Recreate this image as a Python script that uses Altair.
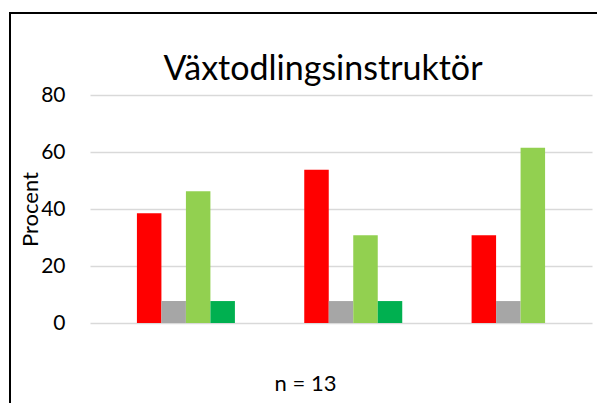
import altair as alt
import pandas as pd

groups = ["Grupp 1", "Grupp 2", "Grupp 3"]
series = ["Serie 0", "Serie 1", "Serie 2", "Serie 3", "Serie 4"]
colors = ["#FFFFFF", "#FF0000", "#A6A6A6", "#92D050", "#00B050"]
values = [
    [0.0, 38.5, 7.7, 46.2, 7.7],
    [0.0, 53.8, 7.7, 30.8, 7.7],
    [0.0, 30.8, 7.7, 61.5, 0.0],
]
y_ticks = [0, 20, 40, 60, 80]
chart_title = "Växtodlingsinstruktör"
n_text = "n = 13"

rows = []
for g, vals in zip(groups, values):
    for s, v in zip(series, vals):
        rows.append({"grupp": g, "serie": s, "procent": v})
df = pd.DataFrame(rows)

FONT = "Lato"

bars = alt.Chart(df).mark_bar().encode(
    x=alt.X("grupp:N", sort=groups,
            scale=alt.Scale(paddingInner=0.268, paddingOuter=0.134),
            axis=alt.Axis(labels=False, ticks=False, domain=False, title=n_text,
                          titleFont=FONT, titleFontSize=22, titleFontWeight="normal",
                          titleColor="#000000", titleX=215, titleY=67,
                          titleAlign="center", titleBaseline="alphabetic")),
    xOffset=alt.XOffset("serie:N", sort=series, scale=alt.Scale(paddingInner=0, paddingOuter=0)),
    y=alt.Y("procent:Q", scale=alt.Scale(domain=[0, 80], nice=False),
            axis=alt.Axis(values=y_ticks, domain=False, ticks=False, labelPadding=25,
                          labelFont=FONT, labelFontSize=21, labelColor="#000000",
                          gridColor="#D9D9D9", gridWidth=1.5,
                          title="Procent", titleFont=FONT, titleFontSize=22,
                          titleFontWeight="normal", titleColor="#000000",
                          titleX=-53, titleY=114, titleAlign="center", titleBaseline="alphabetic")),
    color=alt.Color("serie:N", sort=series, scale=alt.Scale(domain=series, range=colors), legend=None),
)

one = pd.DataFrame({"t": [chart_title]})

title = alt.Chart(one).mark_text(
    font=FONT, fontSize=34, color="#000000", align="center", baseline="alphabetic"
).encode(text="t:N", x=alt.value(233), y=alt.value(-15))

border = alt.Chart(one).mark_rect(
    filled=False, stroke="#000000", strokeWidth=2
).encode(
    x=alt.value(-80), x2=alt.value(530), y=alt.value(-82), y2=alt.value(340)
)

chart = alt.layer(bars, title, border).properties(
    width=502, height=228,
    padding={"left": 82, "top": 87, "right": 5, "bottom": 80},
    autosize=alt.AutoSizeParams(type="none"),
).configure_view(stroke=None)

chart.save("out.html", embed_options={"renderer": "svg", "actions": False})
